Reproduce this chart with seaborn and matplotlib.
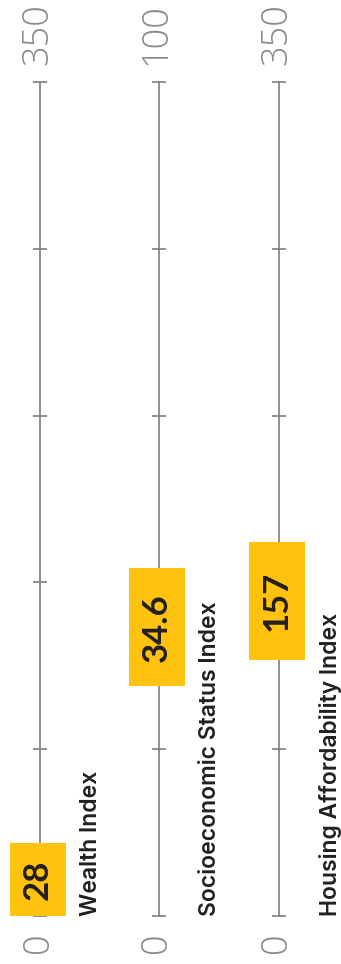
import matplotlib
matplotlib.use("Agg")
import matplotlib.pyplot as plt
import numpy as np
import pandas as pd
import seaborn as sns
from matplotlib.patches import Rectangle

# Gauge data
indices = ["Wealth Index", "Socioeconomic Status Index", "Housing Affordability Index"]
values = [28, 34.6, 157]
scale_max = [350, 100, 350]
value_labels = ["28", "34.6", "157"]

sns.set_theme(style="white")
plt.rcParams["font.family"] = ["Lato", "DejaVu Sans"]

W, H, DPI = 341, 964, 100
fig = plt.figure(figsize=(W / DPI, H / DPI), dpi=DPI)
fig.patch.set_facecolor("white")

# layout in pixels
line_x = [40, 158.5, 279]
top_px, bottom_px = 82, 916
span_px = bottom_px - top_px
half_w = 60
box_len_px = [73, 118, 118]
box_anchor = ["start", "center", "end"]
box_w, box_dx = 56, -2

LINE = "#7d7d7d"
TICKTXT = "#8a8a8a"
YELLOW = "#FFC20E"
DARK = "#231f20"

for i, (name, val, vmax, lab) in enumerate(zip(indices, values, scale_max, value_labels)):
    ax = fig.add_axes([(line_x[i] - half_w) / W, (H - bottom_px) / H,
                       2 * half_w / W, span_px / H])
    ax.set_xlim(-half_w, half_w)
    ax.set_ylim(0, vmax)
    ax.set_axis_off()
    per_px = vmax / span_px

    # gauge line and tick marks
    gauge = pd.DataFrame({"x": [0, 0], "y": [0, vmax]})
    sns.lineplot(data=gauge, x="x", y="y", ax=ax, color=LINE, lw=1.2,
                 sort=False, estimator=None)
    ticks = pd.DataFrame({"x": 0, "y": np.linspace(0, vmax, 6)})
    ax.plot(ticks["x"], ticks["y"], ls="none", marker="_", ms=10.5,
            mew=1.2, color=LINE, clip_on=False)

    # end labels
    ax.annotate("0", xy=(0, 0), xytext=(-2, -27), textcoords="offset pixels",
                rotation=90, ha="center", va="center", fontsize=26,
                fontfamily=["Open Sans", "DejaVu Sans"], fontweight="light",
                color=TICKTXT, annotation_clip=False)
    ax.annotate(f"{vmax}", xy=(0, vmax), xytext=(-2, 17), textcoords="offset pixels",
                rotation=90, ha="center", va="bottom", fontsize=26,
                fontfamily=["Open Sans", "DejaVu Sans"], fontweight="light",
                color=TICKTXT, annotation_clip=False)

    # value box
    blen = box_len_px[i] * per_px
    if box_anchor[i] == "start":
        y0 = 0
    elif box_anchor[i] == "center":
        y0 = val - blen / 2
    else:
        y0 = val - blen
    ax.add_patch(Rectangle((box_dx - box_w / 2, y0), box_w, blen,
                           facecolor=YELLOW, edgecolor="none", zorder=5, clip_on=False))
    ax.text(box_dx, y0 + blen / 2, lab, rotation=90, ha="center", va="center",
            fontsize=25, fontweight="bold", color=DARK, zorder=6, clip_on=False)

    # index name
    ax.annotate(name, xy=(0, 0), xytext=(40, 0), textcoords="offset pixels",
                rotation=90, ha="left", va="bottom", fontsize=16.5,
                fontfamily=["Inter", "DejaVu Sans"], fontweight="semibold",
                color=DARK, annotation_clip=False)

fig.savefig("out.png", dpi=DPI, facecolor="white")
